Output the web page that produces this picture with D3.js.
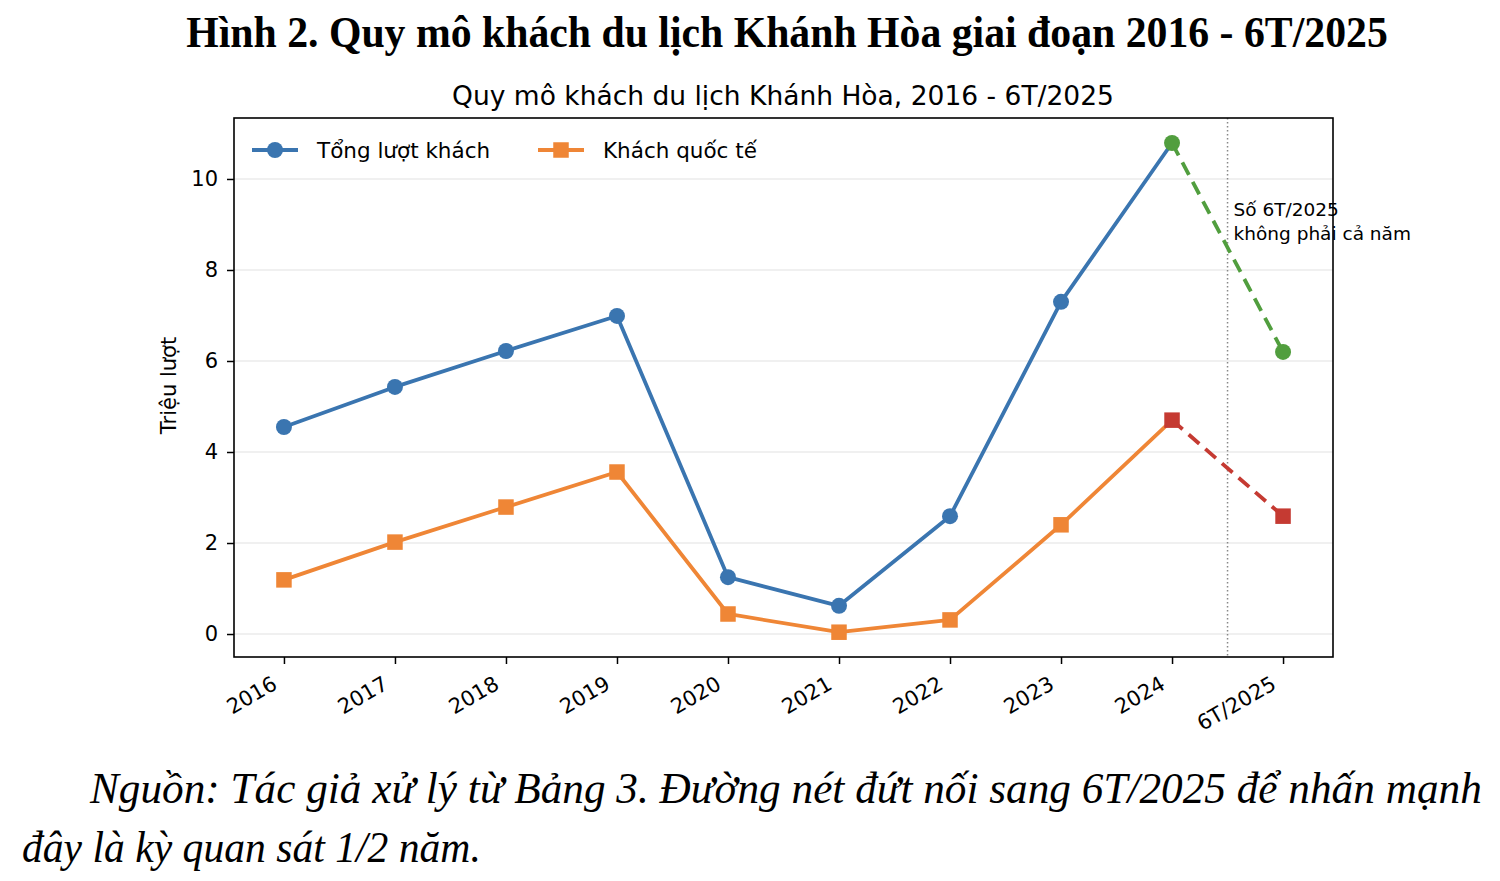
<!DOCTYPE html>
<html>
<head>
<meta charset="utf-8">
<script src="https://cdn.jsdelivr.net/npm/d3@7"></script>
<style>
  body { margin: 0; background: #fff; }
  svg { display: block; }
</style>
</head>
<body>
<script>
const width = 1500;
const height = 881;

// data (million visitors)
const periods = ["2016", "2017", "2018", "2019", "2020", "2021", "2022", "2023", "2024", "6T/2025"];
const totalVisitors = [4.55, 5.43, 6.22, 6.99, 1.25, 0.62, 2.59, 7.30, 10.79, 6.20];
const intlVisitors = [1.19, 2.02, 2.79, 3.56, 0.44, 0.04, 0.31, 2.40, 4.70, 2.59];
const yTicks = [0, 2, 4, 6, 8, 10];

const colors = {
  total: "#3a75b0",
  intl: "#ef8636",
  totalPartial: "#519e3e",
  intlPartial: "#c53a32"
};

const margin = { top: 118, right: 167, bottom: 224, left: 234 };
const fontSans = 'DejaVu Sans, sans-serif';
const fontSerif = 'Liberation Serif, Times New Roman, serif';
const lw = 3.8;

const svg = d3.select('body').append('svg')
  .attr('width', width)
  .attr('height', height);

// squeeze a text horizontally so it spans the given width (like the scanned figure)
function fitText(sel, x, y, w, anchor) {
  const natural = sel.node().getComputedTextLength();
  const sx = Math.min(1, w / natural);
  sel.attr('x', 0).attr('y', 0)
    .attr('text-anchor', anchor)
    .attr('transform', `translate(${x}, ${y}) scale(${sx}, 1)`);
}

// headings
const title = svg.append('text')
  .attr('font-family', fontSerif)
  .attr('font-weight', 'bold')
  .attr('font-size', 44)
  .text('Hình 2. Quy mô khách du lịch Khánh Hòa giai đoạn 2016 - 6T/2025');
fitText(title, 787, 47, 1202, 'middle');

const subtitle = svg.append('text')
  .attr('font-family', fontSans)
  .attr('font-size', 26.5)
  .text('Quy mô khách du lịch Khánh Hòa, 2016 - 6T/2025');
fitText(subtitle, 783, 105, 662, 'middle');

// SCALES
const xScale = d3.scaleLinear()
  .domain([-0.45, periods.length - 1 + 0.45])
  .range([margin.left, width - margin.right]);

const yScale = d3.scaleLinear()
  .domain([-0.505, 11.34])
  .range([height - margin.bottom, margin.top]);

// grid
svg.append('g')
  .selectAll('line')
  .data(yTicks)
  .join('line')
  .attr('x1', margin.left).attr('x2', width - margin.right)
  .attr('y1', d => yScale(d)).attr('y2', d => yScale(d))
  .attr('stroke', '#ebebeb')
  .attr('stroke-width', 1.5);

// half-year marker line
svg.append('line')
  .attr('x1', xScale(8.5)).attr('x2', xScale(8.5))
  .attr('y1', margin.top).attr('y2', height - margin.bottom)
  .attr('stroke', '#888')
  .attr('stroke-width', 1.5)
  .attr('stroke-dasharray', '1.5,2.5');

// AXES
const xAxis = d3.axisBottom(xScale)
  .tickValues(d3.range(periods.length))
  .tickFormat(i => periods[i])
  .tickSize(7)
  .tickSizeOuter(0);

const yAxis = d3.axisLeft(yScale)
  .tickValues(yTicks)
  .tickSize(7)
  .tickSizeOuter(0);

const gx = svg.append('g')
  .attr('transform', `translate(0, ${height - margin.bottom})`)
  .call(xAxis);
gx.select('.domain').remove();
gx.selectAll('.tick line').attr('stroke', '#000').attr('stroke-width', 1.5);
gx.selectAll('.tick text')
  .attr('font-family', fontSans)
  .attr('font-size', 21)
  .attr('fill', '#000')
  .attr('text-anchor', 'end')
  .attr('dy', null)
  .attr('y', 0)
  .attr('transform', 'translate(-6, 31) rotate(-30)');

const gy = svg.append('g')
  .attr('transform', `translate(${margin.left}, 0)`)
  .call(yAxis);
gy.select('.domain').remove();
gy.selectAll('.tick line').attr('stroke', '#000').attr('stroke-width', 1.5);
gy.selectAll('.tick text')
  .attr('font-family', fontSans)
  .attr('font-size', 21)
  .attr('fill', '#000')
  .attr('x', -16);

svg.append('text')
  .attr('transform', `translate(176, ${(margin.top + height - margin.bottom) / 2 - 2}) rotate(-90)`)
  .attr('text-anchor', 'middle')
  .attr('font-family', fontSans)
  .attr('font-size', 21)
  .text('Triệu lượt');

// frame
svg.append('rect')
  .attr('x', margin.left).attr('y', margin.top)
  .attr('width', width - margin.left - margin.right)
  .attr('height', height - margin.top - margin.bottom)
  .attr('fill', 'none')
  .attr('stroke', '#000')
  .attr('stroke-width', 1.6);

// LINES
const line = d3.line()
  .x(d => xScale(d.i))
  .y(d => yScale(d.v));

const toPoints = arr => arr.map((v, i) => ({ i, v }));
const totalPts = toPoints(totalVisitors);
const intlPts = toPoints(intlVisitors);
const last = periods.length - 1;

// dashed connection to the half-year value
svg.append('path')
  .attr('d', line(totalPts.slice(last - 1)))
  .attr('fill', 'none')
  .attr('stroke', colors.totalPartial)
  .attr('stroke-width', lw)
  .attr('stroke-dasharray', '14,8');

svg.append('path')
  .attr('d', line(intlPts.slice(last - 1)))
  .attr('fill', 'none')
  .attr('stroke', colors.intlPartial)
  .attr('stroke-width', lw)
  .attr('stroke-dasharray', '14,8');

svg.append('path')
  .attr('d', line(totalPts.slice(0, last)))
  .attr('fill', 'none')
  .attr('stroke', colors.total)
  .attr('stroke-width', lw)
  .attr('stroke-linejoin', 'round');

svg.append('path')
  .attr('d', line(intlPts.slice(0, last)))
  .attr('fill', 'none')
  .attr('stroke', colors.intl)
  .attr('stroke-width', lw)
  .attr('stroke-linejoin', 'round');

// markers
svg.append('g')
  .selectAll('circle')
  .data(totalPts)
  .join('circle')
  .attr('cx', d => xScale(d.i))
  .attr('cy', d => yScale(d.v))
  .attr('r', 8)
  .attr('fill', d => d.i >= last - 1 ? colors.totalPartial : colors.total);

const sq = 15.5;
svg.append('g')
  .selectAll('rect')
  .data(intlPts)
  .join('rect')
  .attr('x', d => xScale(d.i) - sq / 2)
  .attr('y', d => yScale(d.v) - sq / 2)
  .attr('width', sq).attr('height', sq)
  .attr('fill', d => d.i >= last - 1 ? colors.intlPartial : colors.intl);

// note
const note = svg.append('text')
  .attr('font-family', fontSans)
  .attr('font-size', 18.5)
  .attr('fill', '#000');
note.append('tspan').attr('x', xScale(8.5) + 6).attr('y', 216).text('Số 6T/2025');
note.append('tspan').attr('x', xScale(8.5) + 6).attr('y', 240).text('không phải cả năm');

// LEGEND
const legendItems = [
  { label: 'Tổng lượt khách', color: colors.total, shape: 'circle', x: 252 },
  { label: 'Khách quốc tế', color: colors.intl, shape: 'square', x: 538 }
];
const legend = svg.append('g').attr('transform', 'translate(0, 150)');
legendItems.forEach(d => {
  const g = legend.append('g').attr('transform', `translate(${d.x}, 0)`);
  g.append('line')
    .attr('x1', 0).attr('x2', 46)
    .attr('stroke', d.color).attr('stroke-width', lw);
  if (d.shape === 'circle') {
    g.append('circle').attr('cx', 23).attr('r', 8).attr('fill', d.color);
  } else {
    g.append('rect').attr('x', 23 - sq / 2).attr('y', -sq / 2)
      .attr('width', sq).attr('height', sq).attr('fill', d.color);
  }
  g.append('text')
    .attr('x', 65).attr('y', 8)
    .attr('font-family', fontSans)
    .attr('font-size', 21.5)
    .text(d.label);
});

// source note
const foot1 = svg.append('text')
  .attr('font-family', fontSerif)
  .attr('font-style', 'italic')
  .attr('font-size', 45)
  .text('Nguồn: Tác giả xử lý từ Bảng 3. Đường nét đứt nối sang 6T/2025 để nhấn mạnh');
fitText(foot1, 90, 803, 1392, 'start');

const foot2 = svg.append('text')
  .attr('font-family', fontSerif)
  .attr('font-style', 'italic')
  .attr('font-size', 45)
  .text('đây là kỳ quan sát 1/2 năm.');
fitText(foot2, 22, 862, 459, 'start');
</script>
</body>
</html>
